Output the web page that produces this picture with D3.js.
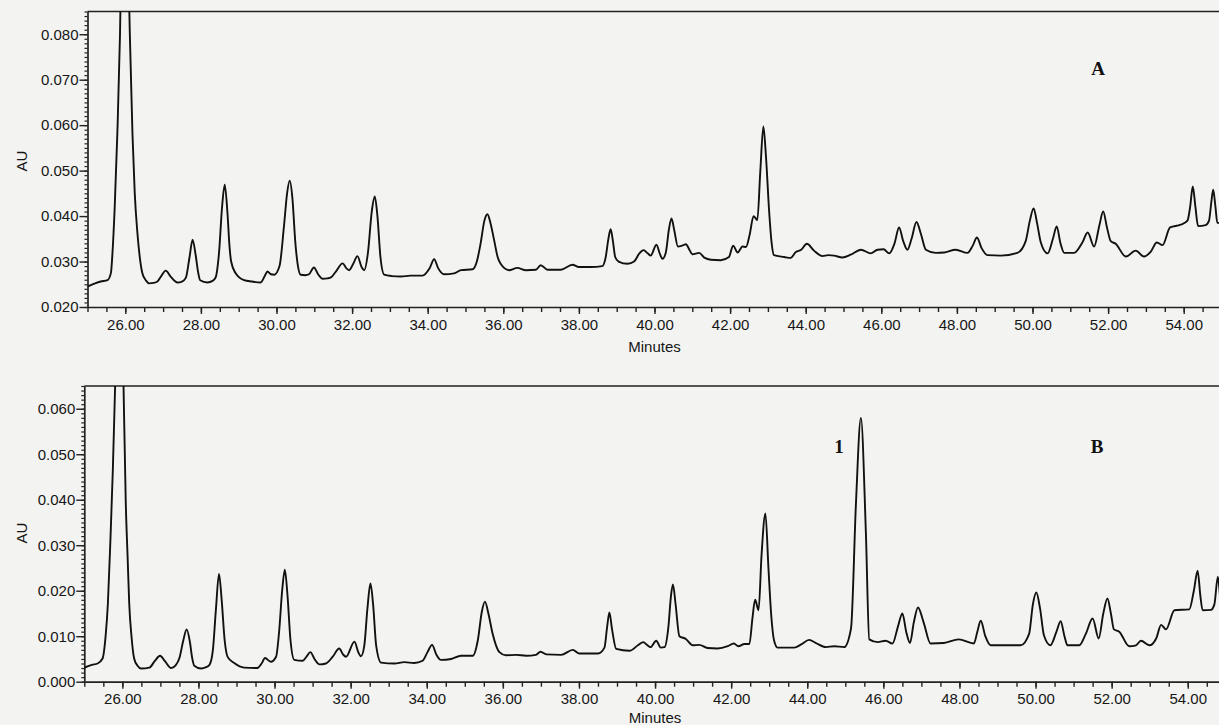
<!DOCTYPE html>
<html>
<head>
<meta charset="utf-8">
<script src="https://cdn.jsdelivr.net/npm/d3@7"></script>
<style>
  body { margin: 0; background: #f3f3f1; }
  svg { display: block; }
  .tick text { font-family: "Liberation Sans", Arial, sans-serif; font-size: 15px; fill: #161616; }
</style>
</head>
<body>
<div id="container"></div>
<script>
/* DATA: [minutes, AU] */
const traceA = [
  [25.00,0.0245],[25.20,0.0252],[25.35,0.0256],[25.53,0.0259],[25.62,0.0275],[25.66,0.0318],
  [25.72,0.0420],[25.79,0.0583],[25.86,0.0800],[25.92,0.1100],[25.98,0.1250],[26.04,0.1100],
  [26.12,0.0800],[26.19,0.0580],[26.25,0.0450],[26.32,0.0363],[26.39,0.0305],[26.45,0.0275],
  [26.55,0.0258],[26.63,0.0252],[26.75,0.0253],[26.85,0.0256],[26.95,0.0268],[27.07,0.0280],
  [27.20,0.0267],[27.38,0.0254],[27.50,0.0256],[27.60,0.0264],[27.70,0.0310],[27.78,0.0348],
  [27.86,0.0315],[27.93,0.0275],[27.98,0.0259],[28.17,0.0254],[28.32,0.0258],[28.39,0.0265],
  [28.48,0.0320],[28.56,0.0420],[28.63,0.0469],[28.70,0.0410],[28.76,0.0330],[28.80,0.0300],
  [28.92,0.0274],[29.14,0.0259],[29.35,0.0256],[29.58,0.0254],[29.70,0.0270],[29.76,0.0278],
  [29.85,0.0272],[29.94,0.0271],[30.08,0.0290],[30.20,0.0380],[30.28,0.0450],[30.35,0.0478],
  [30.42,0.0440],[30.50,0.0340],[30.56,0.0294],[30.64,0.0271],[30.76,0.0270],[30.86,0.0272],
  [30.99,0.0287],[31.10,0.0272],[31.22,0.0262],[31.35,0.0263],[31.44,0.0265],[31.57,0.0278],
  [31.75,0.0296],[31.85,0.0285],[31.92,0.0281],[32.03,0.0295],[32.14,0.0312],[32.25,0.0288],
  [32.32,0.0281],[32.42,0.0320],[32.52,0.0410],[32.60,0.0443],[32.67,0.0400],[32.75,0.0310],
  [32.85,0.0271],[33.05,0.0268],[33.29,0.0267],[33.55,0.0269],[33.86,0.0269],[34.05,0.0285],
  [34.17,0.0305],[34.28,0.0285],[34.43,0.0272],[34.70,0.0274],[34.88,0.0281],[35.19,0.0283],
  [35.30,0.0300],[35.40,0.0340],[35.50,0.0390],[35.58,0.0404],[35.66,0.0385],[35.76,0.0346],
  [35.85,0.0310],[35.93,0.0295],[36.15,0.0281],[36.37,0.0286],[36.60,0.0281],[36.86,0.0282],
  [36.99,0.0292],[37.17,0.0282],[37.52,0.0282],[37.83,0.0293],[38.00,0.0288],[38.31,0.0288],
  [38.62,0.0290],[38.71,0.0310],[38.78,0.0350],[38.84,0.0371],[38.90,0.0345],[38.96,0.0310],
  [39.05,0.0300],[39.29,0.0295],[39.46,0.0300],[39.60,0.0318],[39.71,0.0325],[39.82,0.0318],
  [39.90,0.0313],[40.05,0.0337],[40.15,0.0315],[40.21,0.0306],[40.30,0.0320],[40.38,0.0370],
  [40.45,0.0395],[40.52,0.0370],[40.62,0.0333],[40.73,0.0335],[40.83,0.0338],[40.93,0.0325],
  [41.00,0.0316],[41.18,0.0319],[41.33,0.0308],[41.49,0.0304],[41.75,0.0303],[41.97,0.0310],
  [42.08,0.0335],[42.20,0.0320],[42.33,0.0333],[42.42,0.0332],[42.52,0.0360],[42.62,0.0400],
  [42.72,0.0391],[42.80,0.0500],[42.88,0.0597],[42.95,0.0530],[43.03,0.0414],[43.10,0.0340],
  [43.16,0.0314],[43.43,0.0310],[43.60,0.0308],[43.74,0.0321],[43.88,0.0326],[44.03,0.0339],
  [44.22,0.0324],[44.44,0.0312],[44.60,0.0314],[44.75,0.0313],[44.97,0.0309],[45.19,0.0315],
  [45.46,0.0326],[45.72,0.0318],[45.90,0.0326],[46.06,0.0327],[46.21,0.0318],[46.35,0.0340],
  [46.47,0.0375],[46.58,0.0345],[46.69,0.0326],[46.80,0.0350],[46.93,0.0387],[47.05,0.0360],
  [47.18,0.0326],[47.44,0.0319],[47.66,0.0320],[47.97,0.0326],[48.28,0.0319],[48.42,0.0335],
  [48.53,0.0353],[48.65,0.0330],[48.81,0.0314],[49.16,0.0313],[49.60,0.0319],[49.82,0.0345],
  [49.93,0.0390],[50.03,0.0417],[50.12,0.0385],[50.22,0.0342],[50.40,0.0318],[50.54,0.0350],
  [50.64,0.0377],[50.74,0.0340],[50.84,0.0319],[51.10,0.0319],[51.32,0.0342],[51.46,0.0364],
  [51.63,0.0333],[51.77,0.0380],[51.87,0.0410],[51.97,0.0375],[52.07,0.0345],[52.20,0.0339],
  [52.47,0.0311],[52.73,0.0324],[52.95,0.0311],[53.13,0.0322],[53.29,0.0342],[53.44,0.0336],
  [53.64,0.0375],[53.92,0.0381],[54.10,0.0390],[54.17,0.0420],[54.24,0.0465],[54.31,0.0420],
  [54.38,0.0378],[54.58,0.0380],[54.67,0.0390],[54.73,0.0430],[54.78,0.0458],[54.84,0.0420],
  [54.89,0.0385],[55.00,0.0385]
];

const traceB = [
  [25.00,0.0030],[25.04,0.0032],[25.20,0.0037],[25.35,0.0040],[25.48,0.0051],[25.56,0.0100],
  [25.62,0.0172],[25.69,0.0320],[25.75,0.0466],[25.81,0.0650],[25.90,0.0900],[25.95,0.0950],
  [26.02,0.0700],[26.09,0.0393],[26.14,0.0270],[26.18,0.0173],[26.24,0.0100],[26.31,0.0051],
  [26.40,0.0035],[26.49,0.0029],[26.71,0.0031],[26.85,0.0045],[26.99,0.0057],[27.12,0.0045],
  [27.28,0.0030],[27.40,0.0036],[27.50,0.0052],[27.60,0.0090],[27.69,0.0115],[27.77,0.0090],
  [27.84,0.0050],[27.89,0.0035],[28.07,0.0029],[28.20,0.0032],[28.29,0.0037],[28.38,0.0070],
  [28.46,0.0160],[28.54,0.0237],[28.61,0.0180],[28.69,0.0090],[28.77,0.0054],[28.94,0.0041],
  [29.20,0.0031],[29.55,0.0030],[29.66,0.0040],[29.75,0.0052],[29.90,0.0044],[30.04,0.0055],
  [30.12,0.0110],[30.20,0.0200],[30.27,0.0246],[30.34,0.0190],[30.42,0.0090],[30.52,0.0048],
  [30.74,0.0046],[30.84,0.0055],[30.94,0.0065],[31.05,0.0050],[31.18,0.0038],[31.35,0.0040],
  [31.53,0.0055],[31.70,0.0073],[31.80,0.0060],[31.88,0.0055],[32.10,0.0088],[32.20,0.0065],
  [32.27,0.0056],[32.36,0.0080],[32.44,0.0160],[32.52,0.0216],[32.59,0.0170],[32.67,0.0080],
  [32.80,0.0042],[33.15,0.0040],[33.41,0.0043],[33.67,0.0041],[33.89,0.0046],[34.02,0.0065],
  [34.14,0.0081],[34.25,0.0060],[34.37,0.0048],[34.64,0.0050],[34.90,0.0057],[35.21,0.0057],
  [35.34,0.0090],[35.45,0.0155],[35.53,0.0176],[35.62,0.0150],[35.73,0.0106],[35.82,0.0080],
  [35.91,0.0065],[36.08,0.0058],[36.35,0.0059],[36.61,0.0057],[36.87,0.0059],[36.99,0.0066],
  [37.14,0.0060],[37.53,0.0059],[37.84,0.0070],[38.01,0.0062],[38.50,0.0062],[38.67,0.0075],
  [38.74,0.0120],[38.80,0.0152],[38.87,0.0115],[38.98,0.0072],[39.33,0.0068],[39.55,0.0080],
  [39.69,0.0087],[39.80,0.0080],[39.88,0.0076],[40.03,0.0090],[40.15,0.0075],[40.25,0.0076],
  [40.35,0.0120],[40.42,0.0190],[40.47,0.0214],[40.54,0.0170],[40.64,0.0100],[40.81,0.0094],
  [40.99,0.0080],[41.16,0.0081],[41.38,0.0074],[41.64,0.0073],[41.91,0.0078],[42.07,0.0084],
  [42.19,0.0078],[42.35,0.0083],[42.48,0.0083],[42.56,0.0140],[42.63,0.0180],[42.72,0.0157],
  [42.80,0.0280],[42.90,0.0370],[42.98,0.0250],[43.05,0.0150],[43.13,0.0090],[43.22,0.0075],
  [43.48,0.0075],[43.66,0.0075],[43.84,0.0082],[44.05,0.0092],[44.23,0.0085],[44.49,0.0076],
  [44.71,0.0078],[44.97,0.0076],[45.15,0.0117],[45.28,0.0392],[45.41,0.0580],[45.54,0.0330],
  [45.63,0.0093],[45.85,0.0087],[46.06,0.0090],[46.24,0.0084],[46.38,0.0120],[46.50,0.0150],
  [46.60,0.0110],[46.70,0.0085],[46.80,0.0130],[46.91,0.0163],[47.06,0.0130],[47.24,0.0084],
  [47.59,0.0085],[47.98,0.0093],[48.38,0.0084],[48.47,0.0110],[48.56,0.0134],[48.68,0.0100],
  [48.82,0.0080],[49.26,0.0080],[49.61,0.0080],[49.83,0.0105],[49.93,0.0170],[50.02,0.0196],
  [50.12,0.0160],[50.22,0.0102],[50.39,0.0080],[50.55,0.0110],[50.66,0.0133],[50.76,0.0100],
  [50.84,0.0080],[51.15,0.0080],[51.32,0.0105],[51.50,0.0139],[51.66,0.0095],[51.78,0.0150],
  [51.89,0.0183],[51.98,0.0150],[52.06,0.0115],[52.20,0.0110],[52.46,0.0078],[52.64,0.0080],
  [52.77,0.0090],[52.99,0.0080],[53.17,0.0095],[53.30,0.0125],[53.43,0.0115],[53.65,0.0157],
  [54.04,0.0159],[54.16,0.0200],[54.26,0.0244],[54.33,0.0190],[54.39,0.0157],[54.61,0.0158],
  [54.70,0.0170],[54.79,0.0231],[54.86,0.0180],[54.92,0.0160],[55.00,0.0160]
];

// TICKS AND LABELS
const xTicks = [26, 28, 30, 32, 34, 36, 38, 40, 42, 44, 46, 48, 50, 52, 54];
const yTicksA = [0.020, 0.030, 0.040, 0.050, 0.060, 0.070, 0.080];
const yTicksB = [0.000, 0.010, 0.020, 0.030, 0.040, 0.050, 0.060];
const xTitle = "Minutes";
const yTitle = "AU";
const markA = ["A"];
const markB = ["1", "B"];

/* CONSTANTS AND GLOBALS */
const width = 1219, height = 725;
const font = '"Liberation Sans", Arial, sans-serif';

const svg = d3.select("#container")
  .append("svg")
  .attr("width", width)
  .attr("height", height);

function drawPanel(id, trace, yTicks, yDomain, box, marks, markPos) {
  const x = d3.scaleLinear().domain([25, 55]).range([box.left, box.left + 30 * box.pxPerMin]);
  const y = d3.scaleLinear().domain(yDomain).range([box.bottom, box.top]);
  const g = svg.append("g");

  // CLIP so the solvent peak is cut at the frame
  svg.append("clipPath").attr("id", "clip" + id)
    .append("rect")
    .attr("x", box.left).attr("y", box.top)
    .attr("width", x(55) - box.left).attr("height", box.bottom - box.top);

  // FRAME (top + right)
  g.append("path")
    .attr("d", `M${box.left},${box.top}H${x(55)}V${box.bottom}`)
    .attr("fill", "none").attr("stroke", "#222").attr("stroke-width", 1.5);

  // X AXIS
  const minorX = d3.range(25, 55.01, 0.5);
  g.append("g").attr("transform", `translate(0,${box.bottom})`)
    .call(d3.axisBottom(x).tickValues(minorX).tickSize(5).tickFormat(""))
    .call(a => a.select(".domain").remove())
    .selectAll("line").attr("stroke", "#222").attr("stroke-width", 1.4);
  g.append("g").attr("transform", `translate(0,${box.bottom})`)
    .call(d3.axisBottom(x).tickValues(xTicks).tickSize(7).tickSizeOuter(0).tickPadding(5).tickFormat(d3.format(".2f")))
    .call(a => a.select(".domain").attr("stroke", "#222").attr("stroke-width", 1.7))
    .selectAll("line").attr("stroke", "#222").attr("stroke-width", 1.4);

  // Y AXIS
  const minorY = d3.range(Math.round(yDomain[0] * 1000), Math.round(yDomain[1] * 1000) + 1).map(d => d / 1000);
  g.append("g").attr("transform", `translate(${box.left},0)`)
    .call(d3.axisLeft(y).tickValues(minorY).tickSize(3).tickFormat(""))
    .call(a => a.select(".domain").remove())
    .selectAll("line").attr("stroke", "#222").attr("stroke-width", 1.2);
  g.append("g").attr("transform", `translate(${box.left},0)`)
    .call(d3.axisLeft(y).tickValues(yTicks).tickSize(8).tickSizeOuter(0).tickPadding(1).tickFormat(d3.format(".3f")))
    .call(a => a.select(".domain").attr("stroke", "#222").attr("stroke-width", 1.7))
    .selectAll("line").attr("stroke", "#222").attr("stroke-width", 1.4);

  // AXIS TITLES
  g.append("text")
    .attr("x", (box.left + x(55)) / 2).attr("y", box.titleY)
    .attr("text-anchor", "middle").attr("dy", "0.35em")
    .attr("font-family", font).attr("font-size", 15).attr("fill", "#161616")
    .text(xTitle);
  g.append("text")
    .attr("transform", `translate(22,${box.auY}) rotate(-90)`)
    .attr("text-anchor", "middle").attr("dy", "0.35em")
    .attr("font-family", font).attr("font-size", 15).attr("fill", "#161616")
    .text(yTitle);

  // TRACE
  const line = d3.line()
    .x(d => x(d[0]))
    .y(d => y(d[1]))
    .curve(d3.curveMonotoneX);
  g.append("path")
    .datum(trace)
    .attr("clip-path", `url(#clip${id})`)
    .attr("d", line)
    .attr("fill", "none")
    .attr("stroke", "#111")
    .attr("stroke-width", 1.9)
    .attr("stroke-linejoin", "round");

  // PANEL LETTERS
  g.selectAll("text.mark")
    .data(marks)
    .join("text")
    .attr("class", "mark")
    .attr("x", (d, i) => markPos[i][0])
    .attr("y", (d, i) => markPos[i][1])
    .attr("text-anchor", "middle").attr("dy", "0.35em")
    .attr("font-family", '"Liberation Serif", "Times New Roman", serif')
    .attr("font-weight", "bold").attr("font-size", 19).attr("fill", "#111")
    .text(d => d);
}

drawPanel("A", traceA, yTicksA, [0.020, 0.085],
  { left: 87.5, pxPerMin: 37.8, top: 11.5, bottom: 307, titleY: 347, auY: 161 },
  markA, [[1098, 68]]);

drawPanel("B", traceB, yTicksB, [0.000, 0.065],
  { left: 84.3, pxPerMin: 38.05, top: 386, bottom: 681.7, titleY: 718, auY: 533 },
  markB, [[839, 446], [1097, 446]]);
</script>
</body>
</html>
